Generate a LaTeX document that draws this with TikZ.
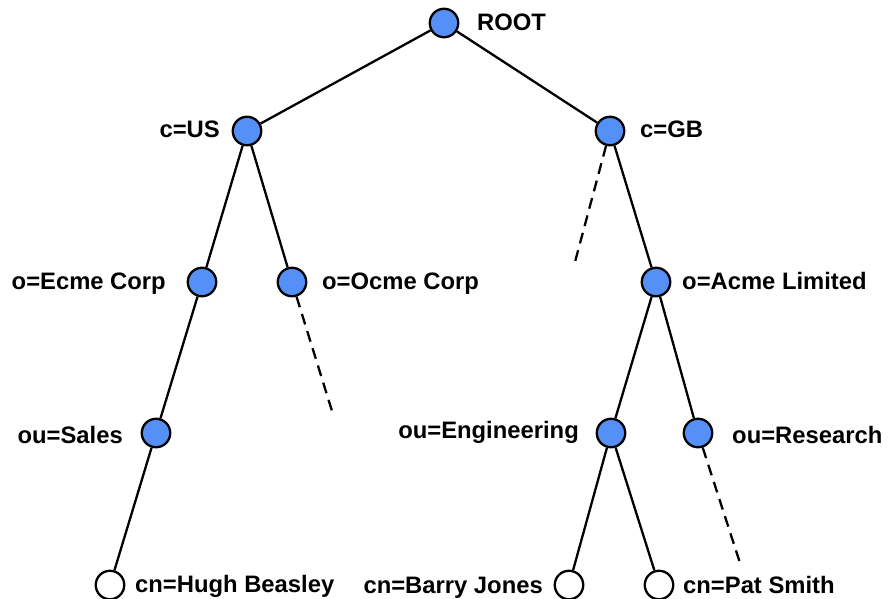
\documentclass[tikz,border=0pt]{standalone}
\usepackage{fontspec}
\setmainfont{Liberation Sans}
\definecolor{nodeblue}{RGB}{84,144,246}
\begin{document}
\begin{tikzpicture}[x=1pt,y=-1pt,
  entry/.style={circle,draw=black,line width=2.3pt,fill=nodeblue,minimum size=28.5pt,inner sep=0pt},
  leaf/.style={entry,fill=white},
  lbl/.style={inner sep=0pt,font=\fontsize{23.8}{26}\selectfont\bfseries},
  link/.style={line width=2.3pt},
  dlink/.style={line width=2.3pt,dash pattern=on 11pt off 7pt}]
\useasboundingbox (0,0) rectangle (888,599);
% nodes
\node[entry] (root) at (444,23) {};
\node[entry] (us) at (247,131) {};
\node[entry] (gb) at (610,131) {};
\node[entry] (ecme) at (202,282) {};
\node[entry] (ocme) at (292,282) {};
\node[entry] (acme) at (656,282) {};
\node[entry] (sales) at (156,433) {};
\node[entry] (eng) at (611,433) {};
\node[entry] (res) at (698,433) {};
\node[leaf] (hugh) at (110,585) {};
\node[leaf] (barry) at (569,585) {};
\node[leaf] (pat) at (659,585) {};
% labels
\node[lbl,anchor=base west] (lroot) at (477,31) {ROOT};
\node[lbl,anchor=base east] (lus) at (220,138) {c=US};
\node[lbl,anchor=base west] (lgb) at (640,138) {c=GB};
\node[lbl,anchor=base east] (lecme) at (166,289) {o=Ecme Corp};
\node[lbl,anchor=base west] (locme) at (322,289) {o=Ocme Corp};
\node[lbl,anchor=base west] (lacme) at (682,289) {o=Acme Limited};
\node[lbl,anchor=base east] (lsales) at (123,443) {ou=Sales};
\node[lbl,anchor=base east] (leng) at (579,438) {ou=Engineering};
\node[lbl,anchor=base west] (lres) at (732,443) {ou=Research};
\node[lbl,anchor=base west] (lhugh) at (135,592) {cn=Hugh Beasley};
\node[lbl,anchor=base east] (lbarry) at (543,593) {cn=Barry Jones};
\node[lbl,anchor=base west] (lpat) at (683,593) {cn=Pat Smith};
% dangling ends
\coordinate (gbend) at (575,262);
\coordinate (ocmeend) at (332,411);
\coordinate (resend) at (740,563);
% connectors
\draw[link] (root) -- (us);
\draw[link] (root) -- (gb);
\draw[link] (us) -- (ecme);
\draw[link] (us) -- (ocme);
\draw[link] (gb) -- (acme);
\draw[link] (ecme) -- (sales);
\draw[link] (acme) -- (eng);
\draw[link] (acme) -- (res);
\draw[link] (sales) -- (hugh);
\draw[link] (eng) -- (barry);
\draw[link] (eng) -- (pat);
\draw[dlink] (gb) -- (gbend);
\draw[dlink] (ocme) -- (ocmeend);
\draw[dlink] (res) -- (resend);
\end{tikzpicture}
\end{document}
